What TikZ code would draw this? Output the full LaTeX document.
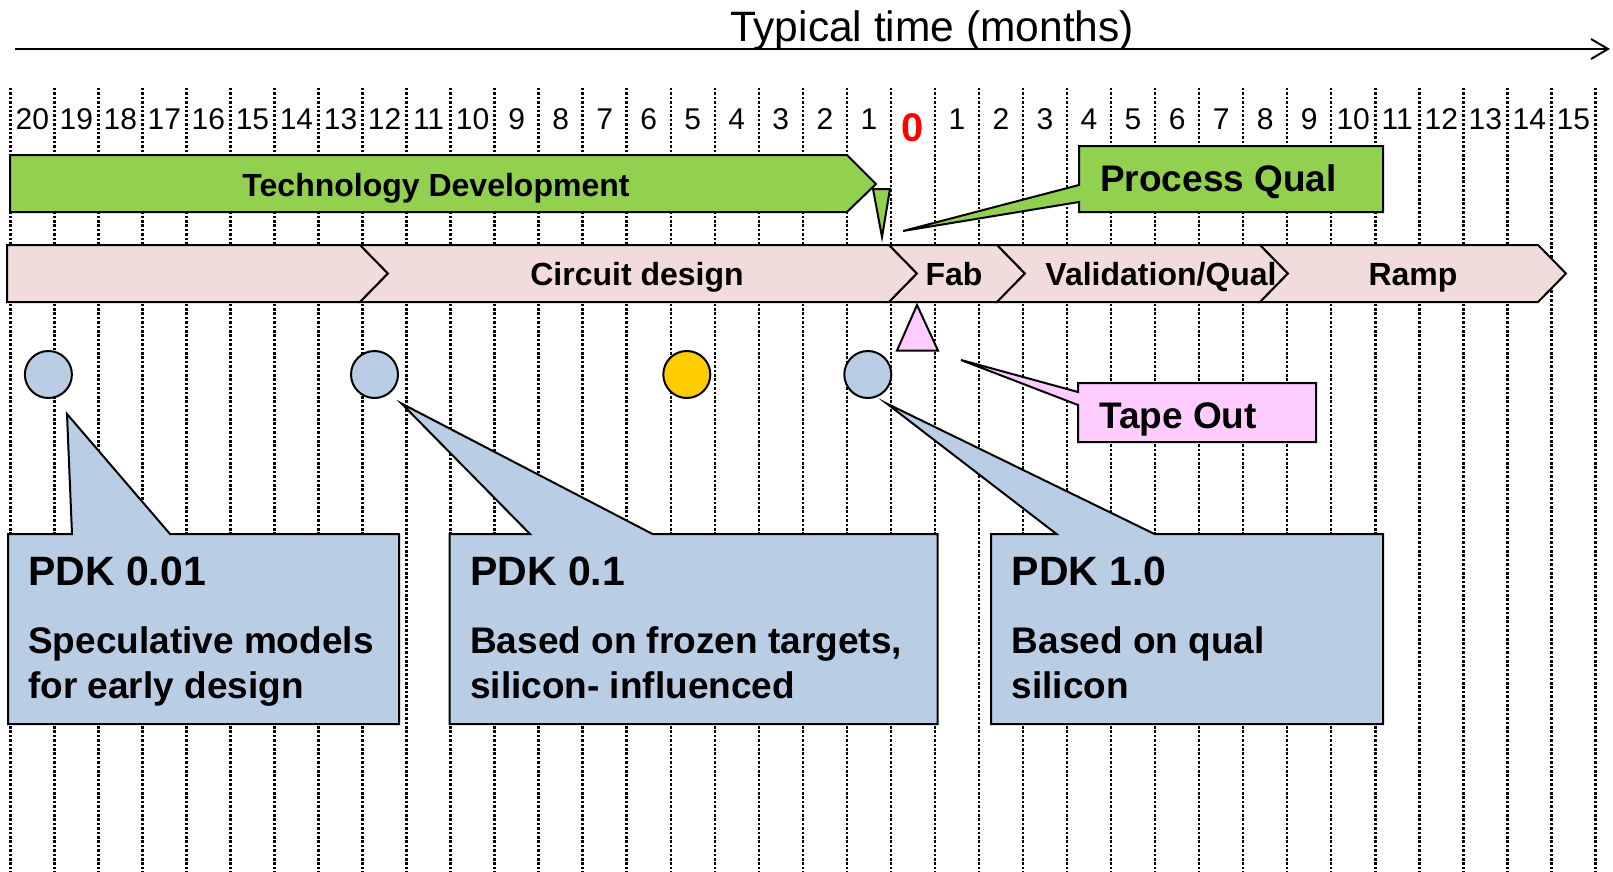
\documentclass[tikz,border=0pt]{standalone}
\usepackage{fontspec}
\setmainfont{Liberation Sans}
\usetikzlibrary{arrows.meta}
\definecolor{techgreen}{HTML}{92D050}
\definecolor{pinkbar}{HTML}{F2DCDB}
\definecolor{tapepink}{HTML}{FFCCFF}
\definecolor{pdkblue}{HTML}{B9CDE5}
\definecolor{dotyellow}{HTML}{FFCC00}
\definecolor{zerored}{HTML}{FF0000}
\begin{document}
\begin{tikzpicture}[x=1pt,y=-1pt,
  shp/.style={draw=black,line width=2pt,line join=miter},
  dotline/.style={line width=2.5pt,dash pattern=on 2.5pt off 1.9pt},
  num/.style={anchor=base,inner sep=0pt,font=\fontsize{30}{36}\selectfont},
  barlbl/.style={anchor=base,inner sep=0pt,font=\fontsize{32}{38}\selectfont\bfseries},
  calllbl/.style={anchor=base west,inner sep=0pt,font=\fontsize{37}{44}\selectfont\bfseries},
  pdktitle/.style={anchor=base west,inner sep=0pt,font=\fontsize{41}{48}\selectfont\bfseries},
  pdkbody/.style={anchor=base west,inner sep=0pt,font=\fontsize{37}{44}\selectfont\bfseries},
  milestone/.style={circle,draw=black,line width=2pt,minimum size=47pt,inner sep=0pt},
  axis/.style={line width=2pt,-{Straight Barb[length=17pt,width=20pt,line width=2pt]}}
]
\useasboundingbox (0,0) rectangle (1613,872);

% dotted month grid
\foreach \k in {0,...,36}{
  \draw[dotline] ({10.3+44.03*\k},88) -- ({10.3+44.03*\k},872);
}

% title and time axis
\node[anchor=base,inner sep=0pt,font=\fontsize{42.5}{50}\selectfont] (title) at (932,41.7) {Typical time (months)};
\coordinate (ax0) at (15,49);
\coordinate (ax1) at (1610,49);
\draw[axis] (ax0) -- (ax1);

% month numbers
\foreach \i in {0,...,19}{
  \pgfmathtruncatemacro\lab{20-\i}
  \node[num] (n\i) at ({32.3+44.03*\i},130) {\lab};
}
\node[num,font=\fontsize{40}{46}\selectfont\bfseries,text=zerored] (n20) at ({32.3+44.03*20},141) {0};
\foreach \i in {21,...,35}{
  \pgfmathtruncatemacro\lab{\i-20}
  \node[num] (n\i) at ({32.3+44.03*\i},130) {\lab};
}

% technology development
\draw[shp,fill=techgreen] (10,155) -- (847,155) -- (876,184) -- (847,212) -- (10,212) -- cycle;
\node[barlbl] (tech) at (436,196.5) {Technology Development};
\draw[shp,fill=techgreen] (873,189) -- (890,189) -- (882,237) -- cycle;

% process qual callout
\draw[shp,fill=techgreen] (1079,146) -- (1383,146) -- (1383,212) -- (1079,212) -- (1079,202) -- (903,231) -- (1079,185) -- cycle;
\node[calllbl] (pq) at (1100,191.7) {Process Qual};

% phase chevrons
\draw[shp,fill=pinkbar] (7,245) -- (360,245) -- (388,273.5) -- (360,302) -- (7,302) -- cycle;
\foreach \a/\b in {360/889,889/997,997/1260,1260/1538}{
  \draw[shp,fill=pinkbar] (\a,245) -- (\b,245) -- ({\b+28},273.5) -- (\b,302) -- (\a,302) -- ({\a+28},273.5) -- cycle;
}
\node[barlbl] (circ) at (637,285) {Circuit design};
\node[barlbl] (fab) at (954,285) {Fab};
\node[barlbl] (val) at (1161,285) {Validation/Qual};
\node[barlbl] (ramp) at (1413,285) {Ramp};

% tape out marker
\draw[shp,fill=tapepink] (917,305) -- (938,350.5) -- (897,350.5) -- cycle;

% tape out callout
\draw[shp,fill=tapepink] (1078,383) -- (1316,383) -- (1316,442) -- (1078,442) -- (1078,405) -- (961,360) -- (1078,392) -- cycle;
\node[calllbl] (tape) at (1099,428) {Tape Out};

% milestones
\node[milestone,fill=pdkblue] (m1) at (48.4,374.5) {};
\node[milestone,fill=pdkblue] (m2) at (374.5,374.5) {};
\node[milestone,fill=dotyellow] (m3) at (686.8,374.5) {};
\node[milestone,fill=pdkblue] (m4) at (867.8,374.5) {};

% PDK callouts
\draw[shp,fill=pdkblue] (8,534) -- (72,534) -- (67,414) -- (170,534) -- (399,534) -- (399,724) -- (8,724) -- cycle;
\node[pdktitle] (p1t) at (28,585) {PDK 0.01};
\node[pdkbody] (p1a) at (28,653.3) {Speculative models};
\node[pdkbody] (p1b) at (28,698.3) {for early design};

\draw[shp,fill=pdkblue] (449.5,534) -- (530,534) -- (401.5,403.5) -- (652.5,534) -- (937.5,534) -- (937.5,724) -- (449.5,724) -- cycle;
\node[pdktitle] (p2t) at (470,585) {PDK 0.1};
\node[pdkbody] (p2a) at (470,653.3) {Based on frozen targets,};
\node[pdkbody] (p2b) at (470,698.3) {silicon- influenced};

\draw[shp,fill=pdkblue] (991,534) -- (1056.5,534) -- (886.7,403.5) -- (1154.5,534) -- (1383,534) -- (1383,724) -- (991,724) -- cycle;
\node[pdktitle] (p3t) at (1011.5,585) {PDK 1.0};
\node[pdkbody] (p3a) at (1011.5,653.3) {Based on qual};
\node[pdkbody] (p3b) at (1011.5,698.3) {silicon};
\end{tikzpicture}
\end{document}
